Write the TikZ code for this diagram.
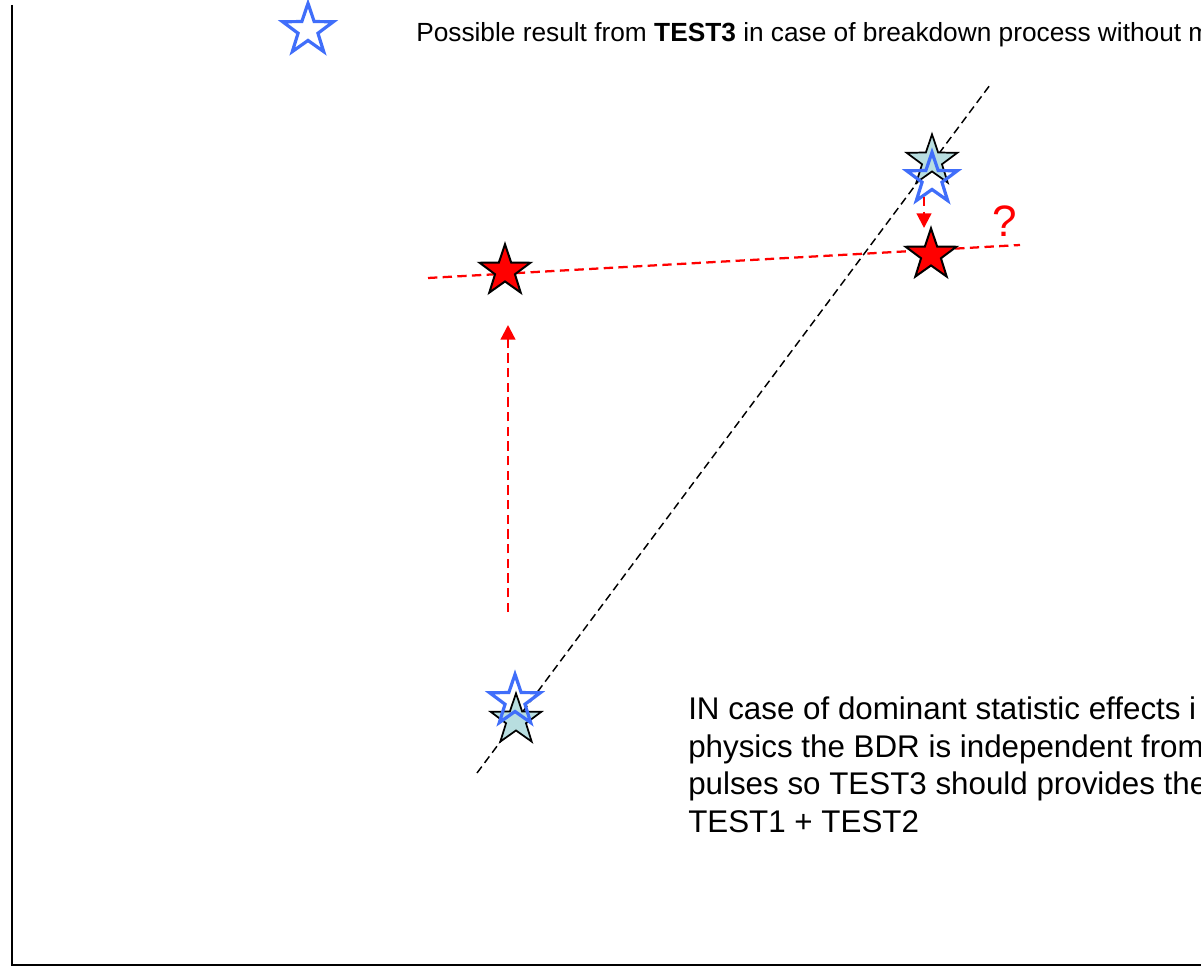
\documentclass[tikz,border=0pt]{standalone}
\usepackage{fontspec}
\setmainfont{Liberation Sans}
\usetikzlibrary{shapes.geometric,arrows.meta}

\definecolor{starblue}{RGB}{64,110,250}
\definecolor{paleteal}{RGB}{184,222,224}

\begin{document}
\begin{tikzpicture} [
                % one unit is one pixel of the slide
                x=0.75pt, y=-0.75pt,
                base star/.style = {star, star points=5, star point ratio=2.55, minimum size=40pt, inner sep=0pt},
                measured star/.style = {base star, draw=black, fill=paleteal, line width=1.3pt},
                result star/.style = {base star, draw=black, fill=red, line width=1.5pt},
                possible star/.style = {base star, draw=starblue, line width=2.4pt},
                trend line/.style = {draw, black, line width=1.1pt, dash pattern=on 6pt off 3.5pt},
                fit line/.style = {draw, red, line width=1.7pt, dash pattern=on 7pt off 4pt},
                shift arrow/.style = {fit line, -{Triangle[length=11pt,width=11pt]}},
                legend text/.style = {font=\fontsize{19.7}{23}\selectfont, inner sep=0pt},
                note text/.style = {font=\fontsize{23.5}{28.1}\selectfont, inner sep=0pt, align=left}
            ]
            \useasboundingbox (0,0) rectangle (1201,966);
            \clip (0,0) rectangle (1201,966);
            % frame of the plot
            \coordinate (ytop) at (12,5);
            \coordinate (origin) at (12,965);
            \coordinate (xend) at (1201,965);
            \draw[line width=1.5pt] (ytop) -- (origin) -- (xend);
            % dashed lines first, so the stars cover them
            \coordinate (trendlow) at (477,773);
            \coordinate (trendhigh) at (990,85);
            \coordinate (fitleft) at (428,278);
            \coordinate (fitright) at (1020,245);
            \path[trend line] (trendlow) -- (trendhigh);
            \path[fit line] (fitleft) -- (fitright);
            % measured and possible results
            \foreach \pos/\name in {{(516,720)/lowmeas}, {(932,161)/highmeas}}
                \node[measured star] (\name) at \pos {};
            \foreach \pos/\name in {{(515,701)/lowposs}, {(932,179)/highposs}, {(308,30)/legstar}}
                \node[possible star] (\name) at \pos {};
            \foreach \pos/\name in {{(505,271)/lowres}, {(931,255)/highres}}
                \node[result star] (\name) at \pos {};
            % shifts
            \coordinate (risefrom) at (508,612);
            \coordinate (riseto) at (508,325);
            \coordinate (dropfrom) at (924,197);
            \coordinate (dropto) at (924,228);
            \path[shift arrow] (risefrom) -- (riseto);
            \path[shift arrow] (dropfrom) -- (dropto);
            \node[red, font=\fontsize{33}{36}\selectfont, inner sep=0pt] (qmark) at (1005,221) {?};
            % texts
            \node[legend text, anchor=base west] (legtext) at (416,42)
                {Possible result from \textbf{TEST3} in case of breakdown process without m};
            \node[note text, anchor=north west] (note) at (688,697)
                {IN case of dominant statistic effects i\\
                 physics the BDR is independent from\\
                 pulses so TEST3 should provides the\\
                 TEST1 + TEST2};
        \end{tikzpicture}
\end{document}
